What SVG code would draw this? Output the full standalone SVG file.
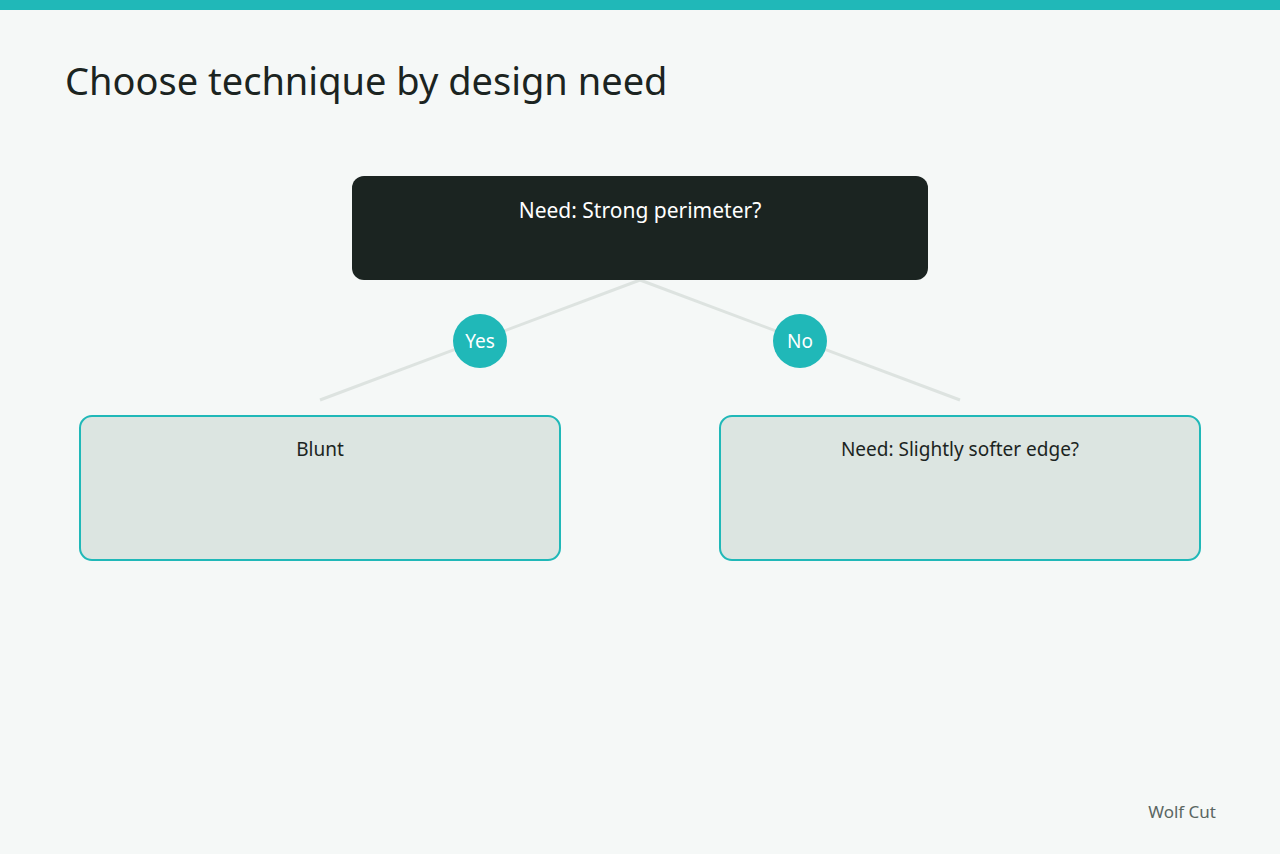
<svg xmlns="http://www.w3.org/2000/svg" width="1280" height="854" viewBox="0 0 1280 854">
<style>
text{font-family:"Noto Sans","Open Sans","Liberation Sans",sans-serif}
.edge{stroke:#DDE3E0;stroke-width:3;fill:none}
.badge{fill:#20B8B8}
.badgeT{fill:#FFFFFF;font-size:19px;text-anchor:middle}
.leaf{fill:#DCE5E1;stroke:#20B8B8;stroke-width:2}
.leafT{fill:#1B2421;font-size:19px;text-anchor:middle}
</style>
<rect width="1280" height="854" fill="#F5F8F7"/>
<rect width="1280" height="10" fill="#20B8B8"/>
<text x="65" y="95" font-size="38" fill="#1B2421">Choose technique by design need</text>
<g id="connectors">
<line class="edge" x1="640" y1="280" x2="320" y2="400"/>
<line class="edge" x1="640" y1="280" x2="960" y2="400"/>
<circle class="badge" cx="480" cy="341" r="27"/>
<text class="badgeT" x="480" y="348">Yes</text>
<circle class="badge" cx="800" cy="341" r="27"/>
<text class="badgeT" x="800" y="348">No</text>
</g>
<g id="node-root">
<rect x="352" y="176" width="576" height="104" rx="12" fill="#1B2421"/>
<text x="640" y="218" font-size="21" fill="#FFFFFF" text-anchor="middle">Need: Strong perimeter?</text>
</g>
<g id="node-blunt">
<rect class="leaf" x="80" y="416" width="480" height="144" rx="12"/>
<text class="leafT" x="320" y="456">Blunt</text>
</g>
<g id="node-softer">
<rect class="leaf" x="720" y="416" width="480" height="144" rx="12"/>
<text class="leafT" x="960" y="456">Need: Slightly softer edge?</text>
</g>
<text x="1216" y="818" font-size="17" fill="#5A6662" text-anchor="end">Wolf Cut</text>
</svg>
